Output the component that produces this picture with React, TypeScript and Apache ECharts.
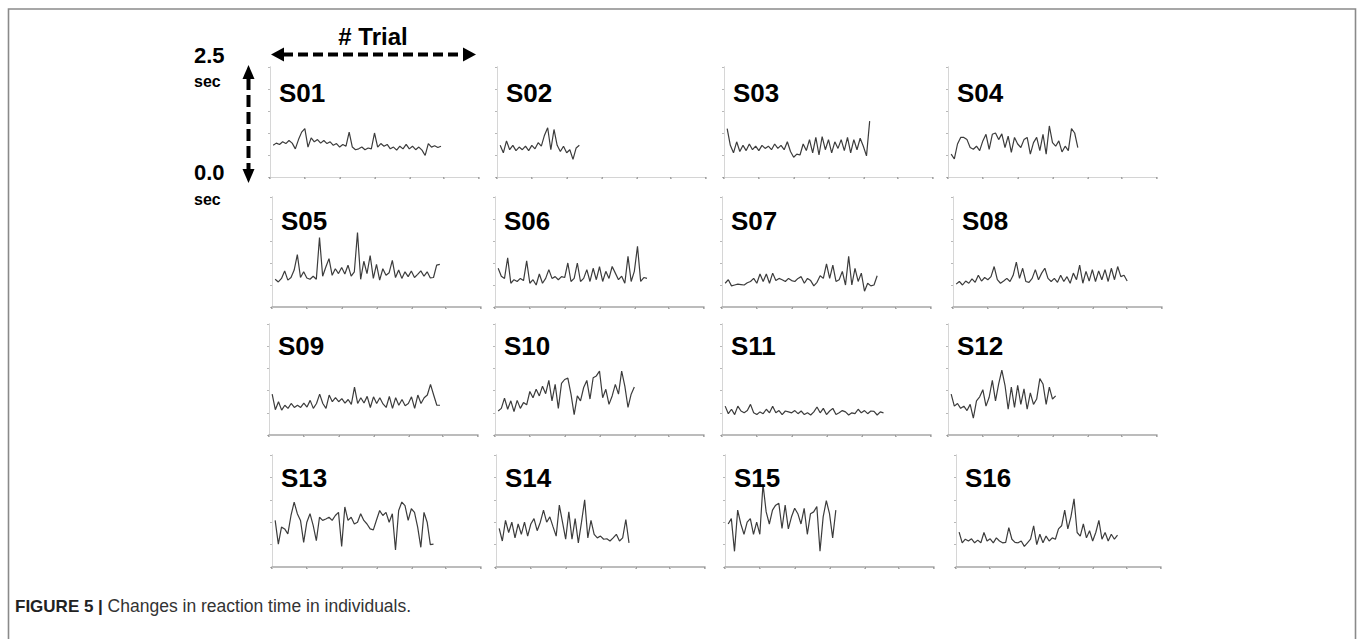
import React, { useEffect, useRef } from "react";
import * as echarts from "echarts";

// ---------- data ----------
const subjects = ["S01", "S02", "S03", "S04", "S05", "S06", "S07", "S08", "S09", "S10", "S11", "S12", "S13", "S14", "S15", "S16"];

// reaction time (sec) per trial
const s01 = [0.72, 0.77, 0.74, 0.8, 0.76, 0.83, 0.77, 0.64, 0.85, 1.02, 1.1, 0.68, 0.89, 0.8, 0.85, 0.77, 0.83, 0.76, 0.8, 0.72, 0.76, 0.68, 0.74, 0.7, 1.02, 0.68, 0.62, 0.64, 0.68, 0.62, 0.66, 0.64, 1.0, 0.68, 0.76, 0.7, 0.74, 0.64, 0.68, 0.61, 0.7, 0.64, 0.74, 0.64, 0.7, 0.62, 0.68, 0.61, 0.49, 0.76, 0.68, 0.71, 0.67, 0.7];
const s02 = [0.72, 0.55, 0.82, 0.62, 0.72, 0.6, 0.68, 0.62, 0.7, 0.6, 0.72, 0.64, 0.78, 0.7, 0.95, 1.12, 0.62, 1.08, 0.72, 0.58, 0.7, 0.55, 0.62, 0.4, 0.66, 0.72];
const s03 = [1.1, 0.72, 0.55, 0.8, 0.58, 0.72, 0.6, 0.75, 0.62, 0.7, 0.6, 0.72, 0.65, 0.7, 0.62, 0.75, 0.65, 0.72, 0.62, 0.8, 0.58, 0.45, 0.52, 0.5, 0.75, 0.6, 0.85, 0.55, 0.9, 0.5, 0.92, 0.62, 0.85, 0.55, 0.8, 0.65, 0.85, 0.6, 0.9, 0.55, 0.85, 0.62, 0.88, 0.7, 0.48, 1.27];
const s04 = [0.52, 0.41, 0.75, 0.9, 0.9, 0.85, 0.67, 0.63, 0.7, 0.6, 0.82, 0.97, 0.63, 0.97, 1.0, 0.85, 0.98, 0.67, 0.93, 0.56, 0.9, 0.75, 0.67, 0.85, 0.9, 0.52, 0.78, 0.9, 0.6, 0.97, 0.52, 1.16, 0.78, 0.7, 0.82, 0.57, 0.7, 0.6, 1.1, 1.0, 0.67];
const s05 = [0.63, 0.57, 0.65, 0.82, 0.61, 0.67, 0.84, 1.19, 0.67, 0.8, 0.66, 0.63, 0.7, 0.63, 1.58, 0.7, 0.91, 1.1, 0.72, 0.87, 0.76, 0.9, 0.75, 0.95, 0.7, 0.8, 1.69, 0.63, 1.04, 0.76, 1.17, 0.65, 0.97, 0.61, 0.87, 0.72, 0.78, 1.06, 0.67, 0.84, 0.65, 0.8, 0.69, 0.82, 0.67, 0.74, 0.82, 0.7, 0.8, 0.66, 0.67, 0.95, 0.97];
const s06 = [0.88, 0.7, 0.65, 1.12, 0.54, 0.62, 0.58, 0.65, 0.6, 1.05, 0.54, 0.62, 0.5, 0.75, 0.54, 0.65, 0.85, 0.65, 0.69, 0.62, 0.69, 0.67, 1.0, 0.58, 0.65, 1.0, 0.58, 0.65, 0.85, 0.58, 0.88, 0.62, 0.92, 0.58, 0.81, 0.65, 0.92, 0.77, 0.62, 0.7, 0.54, 1.15, 0.58, 0.81, 1.38, 0.58, 0.67, 0.65];
const s07 = [0.54, 0.62, 0.48, 0.5, 0.52, 0.51, 0.5, 0.55, 0.58, 0.65, 0.54, 0.75, 0.58, 0.75, 0.54, 0.77, 0.6, 0.65, 0.62, 0.58, 0.65, 0.6, 0.58, 0.65, 0.69, 0.54, 0.65, 0.6, 0.48, 0.56, 0.71, 0.65, 0.98, 0.65, 0.95, 0.58, 0.62, 0.81, 0.5, 1.15, 0.5, 0.88, 0.58, 0.77, 0.36, 0.54, 0.48, 0.5, 0.71];
const s08 = [0.52, 0.58, 0.5, 0.59, 0.54, 0.64, 0.56, 0.72, 0.59, 0.67, 0.62, 0.69, 0.92, 0.62, 0.54, 0.59, 0.65, 0.58, 0.72, 1.02, 0.65, 0.88, 0.58, 0.56, 0.65, 0.85, 0.62, 0.77, 0.88, 0.65, 0.58, 0.65, 0.56, 0.72, 0.58, 0.69, 0.54, 0.77, 0.62, 0.95, 0.54, 0.81, 0.59, 0.85, 0.58, 0.82, 0.62, 0.85, 0.58, 0.88, 0.62, 0.92, 0.69, 0.72, 0.59];
const s09 = [0.92, 0.57, 0.75, 0.56, 0.67, 0.6, 0.71, 0.62, 0.67, 0.62, 0.72, 0.63, 0.78, 0.6, 0.71, 0.92, 0.71, 0.6, 0.9, 0.75, 0.84, 0.75, 0.82, 0.72, 0.8, 0.69, 1.08, 0.71, 0.84, 0.72, 0.87, 0.62, 0.86, 0.71, 0.84, 0.7, 0.62, 0.87, 0.6, 0.84, 0.67, 0.8, 0.66, 0.71, 0.86, 0.6, 0.9, 0.71, 0.84, 0.9, 1.14, 0.9, 0.67, 0.67];
const s10 = [0.54, 0.6, 0.83, 0.58, 0.77, 0.53, 0.78, 0.6, 0.73, 0.68, 0.98, 0.84, 1.03, 0.88, 1.1, 0.93, 1.23, 0.77, 1.14, 0.6, 1.16, 1.25, 1.28, 0.92, 0.46, 0.88, 0.77, 1.07, 1.23, 0.81, 1.29, 1.33, 1.44, 0.84, 1.03, 0.69, 0.88, 1.14, 0.92, 1.44, 1.1, 0.62, 0.92, 1.08];
const s11 = [0.65, 0.48, 0.58, 0.46, 0.65, 0.54, 0.5, 0.55, 0.69, 0.5, 0.46, 0.52, 0.48, 0.58, 0.5, 0.65, 0.5, 0.55, 0.46, 0.54, 0.52, 0.5, 0.55, 0.48, 0.54, 0.46, 0.5, 0.45, 0.52, 0.63, 0.5, 0.6, 0.46, 0.54, 0.6, 0.46, 0.5, 0.55, 0.52, 0.45, 0.5, 0.48, 0.58, 0.5, 0.55, 0.48, 0.54, 0.53, 0.45, 0.52, 0.5];
const s12 = [0.92, 0.65, 0.71, 0.6, 0.65, 0.55, 0.69, 0.38, 0.77, 0.86, 1.02, 0.65, 0.85, 1.23, 0.77, 1.15, 1.46, 1.12, 0.58, 1.08, 0.62, 1.12, 0.69, 1.04, 0.58, 0.95, 0.69, 0.81, 1.27, 1.15, 0.69, 1.08, 0.81, 0.88];
const s13 = [1.04, 0.51, 0.89, 0.85, 0.74, 1.15, 1.45, 1.19, 1.04, 0.55, 1.0, 1.19, 0.93, 0.59, 1.11, 1.04, 1.07, 1.11, 1.04, 1.15, 1.22, 0.46, 1.34, 1.04, 1.11, 0.96, 1.0, 1.19, 1.04, 0.96, 0.85, 0.83, 1.05, 1.26, 1.15, 1.22, 1.0, 1.19, 0.38, 1.26, 1.45, 1.37, 1.04, 1.3, 1.22, 0.89, 0.44, 1.22, 1.0, 0.5, 0.51];
const s14 = [0.86, 0.58, 1.04, 0.77, 1.0, 0.65, 0.96, 0.73, 1.0, 0.69, 0.96, 1.08, 0.81, 1.0, 1.27, 1.0, 1.12, 0.9, 0.69, 1.38, 1.0, 0.62, 1.23, 0.62, 1.08, 0.54, 1.0, 1.5, 0.65, 1.04, 0.73, 0.65, 0.69, 0.62, 0.63, 0.58, 0.65, 0.73, 0.58, 0.65, 1.06, 0.54];
const s15 = [0.96, 1.08, 0.35, 1.27, 0.96, 0.73, 1.0, 1.08, 0.73, 1.0, 0.73, 1.85, 1.23, 0.96, 1.27, 1.38, 1.42, 0.86, 1.38, 0.85, 1.12, 1.31, 1.19, 0.96, 1.31, 0.73, 1.19, 1.23, 1.35, 0.35, 1.12, 1.48, 1.19, 0.65, 1.27];
const s16 = [0.78, 0.54, 0.62, 0.58, 0.63, 0.54, 0.6, 0.54, 0.77, 0.58, 0.63, 0.54, 0.65, 0.58, 0.54, 0.55, 0.88, 0.62, 0.55, 0.54, 0.58, 0.46, 0.54, 0.62, 0.92, 0.5, 0.73, 0.54, 0.69, 0.58, 0.65, 0.62, 0.85, 0.92, 1.27, 0.85, 1.12, 1.52, 0.77, 0.69, 0.96, 0.65, 0.81, 0.58, 0.77, 1.04, 0.62, 0.77, 0.58, 0.73, 0.62, 0.71];

const seriesValues = [s01, s02, s03, s04, s05, s06, s07, s08, s09, s10, s11, s12, s13, s14, s15, s16];

// axis scales
const X_MIN = 0;
const X_MAX = 66;
const X_STEP = 11;
const Y_MIN = 0;
const Y_MAX = 2.5;
const Y_STEP = 0.5;

// ---------- layout ----------
const panelLeft = [
  [270, 497, 724, 948],
  [272, 495, 722, 953],
  [269, 495, 722, 948],
  [272, 496, 725, 956],
];
const rowTop = [67, 197, 324, 455];
const rowHeight = [110, 110, 111, 112];
const PANEL_W = 209;
const titleDy = [26, 24, 22, 23];
const TITLE_DX = 9;

const FONT = "'Liberation Sans', Arial, Helvetica, sans-serif";

function buildOption() {
  const grid: any[] = [];
  const xAxis: any[] = [];
  const yAxis: any[] = [];
  const series: any[] = [];
  const graphic: any[] = [];

  subjects.forEach((name, i) => {
    const r = Math.floor(i / 4);
    const c = i % 4;
    const left = panelLeft[r][c];
    const top = rowTop[r];
    const height = rowHeight[r];
    const width = r === 3 && c === 3 ? PANEL_W - 4 : PANEL_W;
    grid.push({ left, top, width, height, containLabel: false });

    const baseX = {
      type: "value",
      gridIndex: i,
      min: X_MIN,
      max: X_MAX,
      interval: X_STEP,
      axisLabel: { show: false },
      splitLine: { show: false },
    };
    xAxis.push({
      ...baseX,
      position: "bottom",
      axisLine: { show: false },
      axisTick: { show: true, length: 2, lineStyle: { color: "#8c8c8c", width: 1.5 } },
    });
    xAxis.push({
      ...baseX,
      position: "top",
      axisLine: { show: true, lineStyle: { color: r === 0 ? "#d4d4d4" : "#a6a6a6", width: r === 0 ? 1 : 1.6 } },
      axisTick: { show: true, inside: true, length: 2, lineStyle: { color: "#c4c4c4" } },
    });
    const baseY = {
      type: "value",
      gridIndex: i,
      min: Y_MIN,
      max: Y_MAX,
      interval: Y_STEP,
      axisLabel: { show: false },
      splitLine: { show: false },
    };
    yAxis.push({
      ...baseY,
      position: "left",
      axisLine: { show: true, lineStyle: { color: "#d2d2d2", width: 1 } },
      axisTick: { show: true, length: 2, lineStyle: { color: "#b0b0b0" } },
    });
    yAxis.push({
      ...baseY,
      position: "right",
      axisLine: { show: true, lineStyle: { color: "#d6d6d6", width: 1 } },
      axisTick: { show: true, inside: true, length: 2, lineStyle: { color: "#b8b8b8" } },
    });

    series.push({
      type: "line",
      name,
      xAxisIndex: 2 * i,
      yAxisIndex: 2 * i,
      data: seriesValues[i].map((v, k) => [k + 1, v]),
      showSymbol: false,
      symbol: "none",
      lineStyle: { color: "#3c3c3c", width: 1.2 },
      z: 3,
    });

    graphic.push({
      type: "text",
      x: left + TITLE_DX,
      y: top + titleDy[r],
      style: {
        text: name,
        fill: "#000",
        font: `bold 26px ${FONT}`,
        textAlign: "left",
        textVerticalAlign: "middle",
      },
      z: 10,
    });
  });

  // outer frame
  graphic.push({
    type: "rect",
    shape: { x: 8.5, y: 9, width: 1347, height: 700 },
    style: { fill: "none", stroke: "#8a8a8a", lineWidth: 1.6 },
    silent: true,
  });

  // "# Trial" annotation and horizontal dashed arrow
  graphic.push({
    type: "text",
    x: 373,
    y: 36,
    style: { text: "# Trial", fill: "#000", font: `bold 24px ${FONT}`, textAlign: "center", textVerticalAlign: "middle" },
  });
  graphic.push({
    type: "line",
    shape: { x1: 283, y1: 54.5, x2: 464, y2: 54.5 },
    style: { stroke: "#000", lineWidth: 4, lineDash: [10, 5] },
  });
  graphic.push({
    type: "polygon",
    shape: { points: [[271, 54.5], [284, 47.5], [284, 61.5]] },
    style: { fill: "#000" },
  });
  graphic.push({
    type: "polygon",
    shape: { points: [[476, 54.5], [463, 47.5], [463, 61.5]] },
    style: { fill: "#000" },
  });

  // vertical dashed arrow
  graphic.push({
    type: "line",
    shape: { x1: 248.5, y1: 78, x2: 248.5, y2: 170 },
    style: { stroke: "#000", lineWidth: 4, lineDash: [12, 5] },
  });
  graphic.push({
    type: "polygon",
    shape: { points: [[248.5, 65], [242.5, 79], [254.5, 79]] },
    style: { fill: "#000" },
  });
  graphic.push({
    type: "polygon",
    shape: { points: [[248.5, 183], [242.5, 169], [254.5, 169]] },
    style: { fill: "#000" },
  });

  // y range labels
  const lbl = (text: string, y: number, size: number) => ({
    type: "text",
    x: 194,
    y,
    style: { text, fill: "#000", font: `bold ${size}px ${FONT}`, textAlign: "left", textVerticalAlign: "middle" },
  });
  graphic.push(lbl("2.5", 55, 22));
  graphic.push(lbl("sec", 81, 16));
  graphic.push(lbl("0.0", 172, 22));
  graphic.push(lbl("sec", 199, 16));

  // caption
  graphic.push({
    type: "text",
    x: 15,
    y: 606,
    style: {
      text: "{b|FIGURE 5 |} {r|Changes in reaction time in individuals.}",
      textVerticalAlign: "middle",
      rich: {
        b: { fontFamily: FONT, fontSize: 17, fontWeight: "bold", fill: "#222" },
        r: { fontFamily: FONT, fontSize: 17.5, fill: "#333" },
      },
      font: `17px ${FONT}`,
    },
  });

  return {
    animation: false,
    backgroundColor: "#fff",
    grid,
    xAxis,
    yAxis,
    series,
    graphic,
  };
}

export default function App() {
  const ref = useRef<HTMLDivElement>(null);
  useEffect(() => {
    if (!ref.current) return;
    const chart = echarts.init(ref.current, undefined, { renderer: "svg" });
    chart.setOption(buildOption() as any);
    return () => chart.dispose();
  }, []);
  return (
    <div
      ref={ref}
      style={{ position: "fixed", left: 0, top: 0, width: 1360, height: 639, background: "#fff" }}
    />
  );
}
